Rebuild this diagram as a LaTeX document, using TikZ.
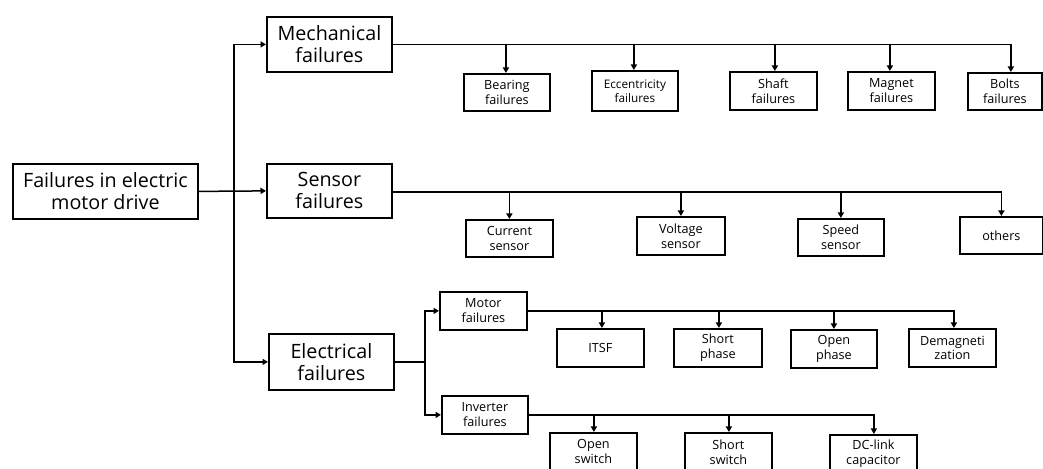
\documentclass[tikz,border=0pt]{standalone}
\usepackage{fontspec}
\setmainfont{Open Sans}
\usetikzlibrary{arrows.meta}
\tikzset{
  bx/.style={draw, line width=1.8bp, inner sep=0pt, align=center, anchor=north west},
  big/.style={font=\fontsize{19.8}{22}\selectfont},
  sml/.style={font=\fontsize{12.7}{15}\selectfont},
  tiny/.style={font=\fontsize{11.8}{14}\selectfont},
  ln/.style={line width=1.5bp},
  arr/.style={line width=1.5bp, -{Triangle[length=5.5bp,width=6bp]}},
}
\newcommand{\bxat}[7]{% name, style, x1, y1, x2, y2, text
  \node[bx,#2,minimum width={(#5-#3)*1bp},minimum height={(#6-#4)*1bp}] (#1) at (#3,#4) {#7};}
\begin{document}
\begin{tikzpicture}[x=1bp,y=-1bp]
\useasboundingbox (0,0) rectangle (1043,469);
\bxat{root}{big}{12}{163}{197}{218}{Failures in electric\\motor drive}
\bxat{mech}{big}{266}{16}{391}{71}{Mechanical\\failures}
\bxat{sens}{big}{266}{163}{391}{217}{Sensor\\failures}
\bxat{elec}{big}{268}{333}{393}{389}{Electrical\\failures}
% mechanical children
\bxat{bear}{sml}{463}{73}{549}{110}{Bearing\\failures}
\bxat{ecc}{tiny}{591}{70}{677}{110}{Eccentricity\\failures}
\bxat{shaft}{sml}{729}{71}{816}{109}{Shaft\\failures}
\bxat{magn}{sml}{847}{71}{934}{109}{Magnet\\failures}
\bxat{bolt}{sml}{967}{72}{1041}{109}{Bolts\\failures}
% sensor children
\bxat{cur}{sml}{465}{219}{552}{256}{Current\\sensor}
\bxat{volt}{sml}{636}{216}{724}{254}{Voltage\\sensor}
\bxat{speed}{sml}{797}{218}{883}{255}{Speed\\sensor}
\bxat{oth}{sml}{959}{216}{1042}{253}{others}
% electrical children
\bxat{mot}{sml}{439}{291}{526}{329}{Motor\\failures}
\bxat{inv}{sml}{441}{395}{527}{433}{Inverter\\failures}
\bxat{itsf}{sml}{556}{328}{643}{366}{ITSF}
\bxat{sph}{sml}{673}{328}{761}{366}{Short\\phase}
\bxat{oph}{sml}{790}{329}{876}{367}{Open\\phase}
\bxat{demag}{sml}{908}{328}{995}{366}{Demagneti\\zation}
\bxat{osw}{sml}{549}{432}{636}{470}{Open\\switch}
\bxat{ssw}{sml}{684}{432}{771}{470}{Short\\switch}
\bxat{dcl}{sml}{829}{434}{916}{472}{DC-link\\capacitor}
% root connections
\coordinate (j) at ([xshift=35bp]root.east);
\draw[arr] (root.east) -- (sens.west);
\draw[arr] (j) |- (mech.west);
\draw[arr] (j) |- (elec.west);
% mechanical bus
\coordinate (mb) at ([xshift=6bp]bolt.north);
\draw[arr] (mech.east) -| (mb);
\foreach \n/\dx in {bear/-1,ecc/-1,shaft/1.5,magn/-1.5}{
  \draw[arr] ([xshift=\dx bp]\n.north |- mech.east) -- ([xshift=\dx bp]\n.north);
}
% sensor bus
\coordinate (sb) at ([yshift=-1bp]sens.east);
\draw[arr] (sb) -| (oth.north);
\foreach \n in {cur,volt,speed}{
  \draw[arr] (\n.north |- sb) -- (\n.north);
}
% electrical split
\coordinate (ej) at ([xshift=30bp]elec.east);
\draw[ln] (elec.east) -- (ej);
\draw[arr] (ej) |- (mot.west);
\draw[arr] (ej) |- (inv.west);
% motor bus
\draw[arr] (mot.east) -| ([xshift=1.5bp]demag.north);
\foreach \n/\dx in {itsf/1.5,sph/1,oph/0}{
  \draw[arr] ([xshift=\dx bp]\n.north |- mot.east) -- ([xshift=\dx bp]\n.north);
}
% inverter bus
\draw[arr] (inv.east) -| ([xshift=0.5bp]dcl.north);
\foreach \n/\dx in {osw/0.5,ssw/0.5}{
  \draw[arr] ([xshift=\dx bp]\n.north |- inv.east) -- ([xshift=\dx bp]\n.north);
}
\end{tikzpicture}
\end{document}
